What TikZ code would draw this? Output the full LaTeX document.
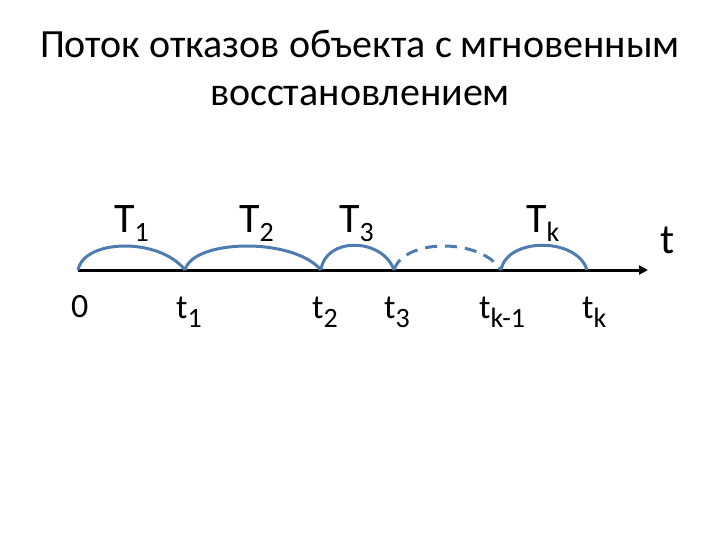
\documentclass[tikz,border=0pt]{standalone}
\usepackage{fontspec}
\setmainfont{Carlito}
\usetikzlibrary{arrows.meta,calc}
\definecolor{arcblue}{RGB}{79,124,176}
\newcommand\mysub[1]{\raisebox{-9pt}{\fontsize{28}{28}\selectfont #1}}
\tikzset{
  axis/.style={line width=3pt,-{Triangle[length=9pt,width=9pt]}},
  arc/.style={line width=3pt,color=arcblue},
  biglab/.style={font=\fontsize{42}{48}\selectfont,inner sep=0pt,anchor=base west},
  smalllab/.style={font=\fontsize{34}{40}\selectfont,inner sep=0pt,anchor=base west},
  title/.style={font=\fontsize{40}{48}\selectfont,inner sep=0pt,anchor=base}
}
\begin{document}
\begin{tikzpicture}[x=1pt,y=-1pt]
\useasboundingbox (0,0) rectangle (720,540);
\node[title] (ttl1) at (360,58) {Поток отказов объекта с мгновенным};
\node[title] (ttl2) at (360,106) {восстановлением};
\coordinate (p0) at (78,270);
\coordinate (p1) at (185,270);
\coordinate (p2) at (321,270);
\coordinate (p3) at (394,270);
\coordinate (pk1) at (501,270);
\coordinate (pk) at (587,270);
\coordinate (tip) at (648,270);
\draw[axis] (p0) -- (tip);
\draw[arc] (p0) .. controls ($(p0)+(6,-31)$) and ($(p1)+(-26,-33)$) .. (p1);
\draw[arc] (p1) .. controls ($(p1)+(8,-31)$) and ($(p2)+(-28,-33)$) .. (p2);
\draw[arc] (p2) .. controls ($(p2)+(4,-33)$) and ($(p3)+(-12,-33)$) .. (p3);
\draw[arc,dashed,dash pattern=on 12pt off 8pt] (p3) .. controls ($(p3)+(10,-32)$) and ($(pk1)+(-20,-32)$) .. (pk1);
\draw[arc] (pk1) .. controls ($(pk1)+(6,-33)$) and ($(pk)+(-10,-33)$) .. (pk);
\node[biglab] (T1) at (114,233) {T\mysub{1}};
\node[biglab] (T2) at (239,233) {T\mysub{2}};
\node[biglab] (T3) at (339,233) {T\mysub{3}};
\node[biglab] (Tk) at (526,233) {T\mysub{k}};
\node[biglab] (tt) at (660,254) {t};
\node[smalllab] (l0) at (71,317) {0};
\node[smalllab] (l1) at (176,318) {t\mysub{1}};
\node[smalllab] (l2) at (312,318) {t\mysub{2}};
\node[smalllab] (l3) at (384,318) {t\mysub{3}};
\node[smalllab] (lk1) at (479,318) {t\mysub{k-1}};
\node[smalllab] (lk) at (582,318) {t\mysub{k}};
\end{tikzpicture}
\end{document}
